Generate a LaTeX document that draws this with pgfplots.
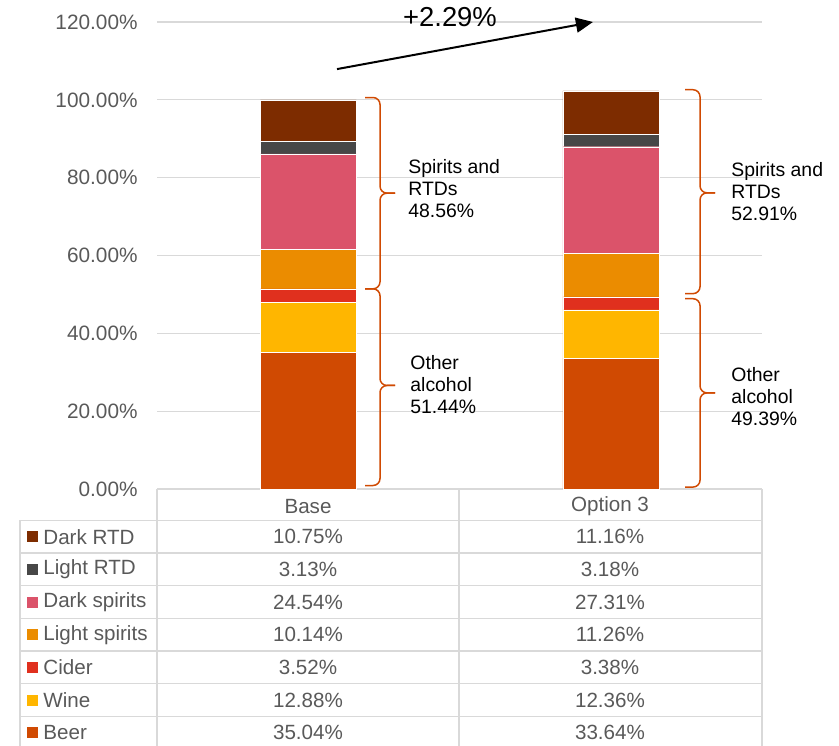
\documentclass[border=0pt]{standalone}
\usepackage{fontspec}
\setmainfont{Liberation Sans}
\usepackage{pgfplots}
\usepackage{pgfplotstable}
\pgfplotsset{compat=1.18}
\usetikzlibrary{arrows.meta}

\definecolor{cbeer}{HTML}{D04A02}
\definecolor{cwine}{HTML}{FFB600}
\definecolor{ccider}{HTML}{E0301E}
\definecolor{clspirits}{HTML}{EB8C00}
\definecolor{cdspirits}{HTML}{DB536A}
\definecolor{clrtd}{HTML}{474747}
\definecolor{cdrtd}{HTML}{7D2C00}
\definecolor{gridgray}{HTML}{D9D9D9}
\definecolor{txtgray}{HTML}{595959}

% shares of alcohol by type, in %
\pgfplotstableread{
x beer wine cider lspirits dspirits lrtd drtd
0 35.04 12.88 3.52 10.14 24.54 3.13 10.75
1 33.64 12.36 3.38 11.26 27.31 3.18 11.16
}\shares

% right brace: x of ends, x of spine, x of tip, top, middle, bottom
\newcommand{\groupbrace}[6]{%
  \draw[cbeer, line width=0.75pt, rounded corners=3.5pt]
    (axis cs:#1,#4) -- (axis cs:#2,#4) -- (axis cs:#2,#5) -- (axis cs:#3,#5);
  \draw[cbeer, line width=0.75pt, rounded corners=3.5pt]
    (axis cs:#3,#5) -- (axis cs:#2,#5) -- (axis cs:#2,#6) -- (axis cs:#1,#6);
}

\begin{document}
\begin{tikzpicture}
\begin{axis}[
    at={(78.5pt,-244.5pt)}, anchor=south west,
    scale only axis,
    width=302.5pt, height=233.5pt,
    xmin=-0.5, xmax=1.5,
    ymin=0, ymax=120,
    ybar stacked, bar width=48pt,
    axis line style={draw=none},
    xtick=\empty,
    ytick={0,20,...,120},
    major tick length=0pt,
    ymajorgrids,
    grid style={draw=gridgray, line width=0.65pt},
    yticklabel={\pgfmathprintnumber[fixed,fixed zerofill,precision=2]{\tick}\%},
    /pgf/number format/assume math mode=true,
    yticklabel style={font=\fontsize{10.4}{12}\selectfont, text=txtgray, inner sep=0pt, xshift=-9.5pt},
    clip=false,
]
\addplot[fill=cbeer, draw=white, line width=0.2pt] table[x=x, y=beer] {\shares};
\addplot[fill=cwine, draw=white, line width=0.2pt] table[x=x, y=wine] {\shares};
\addplot[fill=ccider, draw=white, line width=0.2pt] table[x=x, y=cider] {\shares};
\addplot[fill=clspirits, draw=white, line width=0.2pt] table[x=x, y=lspirits] {\shares};
\addplot[fill=cdspirits, draw=white, line width=0.2pt] table[x=x, y=dspirits] {\shares};
\addplot[fill=clrtd, draw=white, line width=0.2pt] table[x=x, y=lrtd] {\shares};
\addplot[fill=cdrtd, draw=white, line width=0.2pt] table[x=x, y=drtd] {\shares};

% group braces
\groupbrace{0.1876}{0.2372}{0.2868}{100.6}{76.02}{51.44}
\groupbrace{0.1876}{0.2372}{0.2868}{51.44}{26.6}{0.9}
\groupbrace{1.2455}{1.2951}{1.3447}{102.6}{76.1}{50.2}
\groupbrace{1.2455}{1.2951}{1.3447}{48.9}{24.7}{0.5}

% change arrow
\draw[-{Triangle[length=8.5pt,width=7.5pt]}, line width=1pt]
    (axis cs:0.095,107.9) -- (axis cs:0.941,120);
\end{axis}

% annotations and data table, in pixel units of the reference
\begin{scope}[x=0.5pt, y=-0.5pt]
\node[font=\fontsize{13.7}{15}\selectfont] at (450,17) {+2.29\%};

\node[anchor=west, align=left, inner sep=0pt, font=\fontsize{9.7}{11}\selectfont]
    at (408,189) {Spirits and\\RTDs\\48.56\%};
\node[anchor=west, align=left, inner sep=0pt, font=\fontsize{9.7}{11}\selectfont]
    at (410,385) {Other\\alcohol\\51.44\%};
\node[anchor=west, align=left, inner sep=0pt, font=\fontsize{9.7}{11}\selectfont]
    at (731,192) {Spirits and\\RTDs\\52.91\%};
\node[anchor=west, align=left, inner sep=0pt, font=\fontsize{9.7}{11}\selectfont]
    at (731,397) {Other\\alcohol\\49.39\%};

% grid of the table
\begin{scope}[draw=gridgray, line width=0.65pt]
\draw (157,489) -- (157,752);
\draw (459,489) -- (459,752);
\draw (762,489) -- (762,752);
\draw (20,520.3) -- (20,752);
\foreach \k in {0,...,6} {
    \draw (20,520.3+32.7*\k) -- (762,520.3+32.7*\k);
}
\end{scope}

\begin{scope}[font=\fontsize{10.3}{12}\selectfont, text=txtgray]
\node at (308,506.5) {Base};
\node at (610,506.5) {Option 3};
\foreach \k/\nm/\col/\va/\vb in {
    0/Dark RTD/cdrtd/10.75/11.16,
    1/Light RTD/clrtd/3.13/3.18,
    2/Dark spirits/cdspirits/24.54/27.31,
    3/Light spirits/clspirits/10.14/11.26,
    4/Cider/ccider/3.52/3.38,
    5/Wine/cwine/12.88/12.36,
    6/Beer/cbeer/35.04/33.64} {
    \pgfmathsetmacro{\yc}{536.65+32.7*\k}
    \fill[\col] (27,\yc-5.5) rectangle (38,\yc+5.5);
    \node[anchor=west, inner sep=0pt] at (43,\yc) {\nm};
    \node at (308,\yc) {\va\%};
    \node at (610,\yc) {\vb\%};
}
\end{scope}
\end{scope}

\pgfresetboundingbox
\path[use as bounding box] (0pt,0pt) rectangle (419.5pt,-372.5pt);
\end{tikzpicture}
\end{document}
